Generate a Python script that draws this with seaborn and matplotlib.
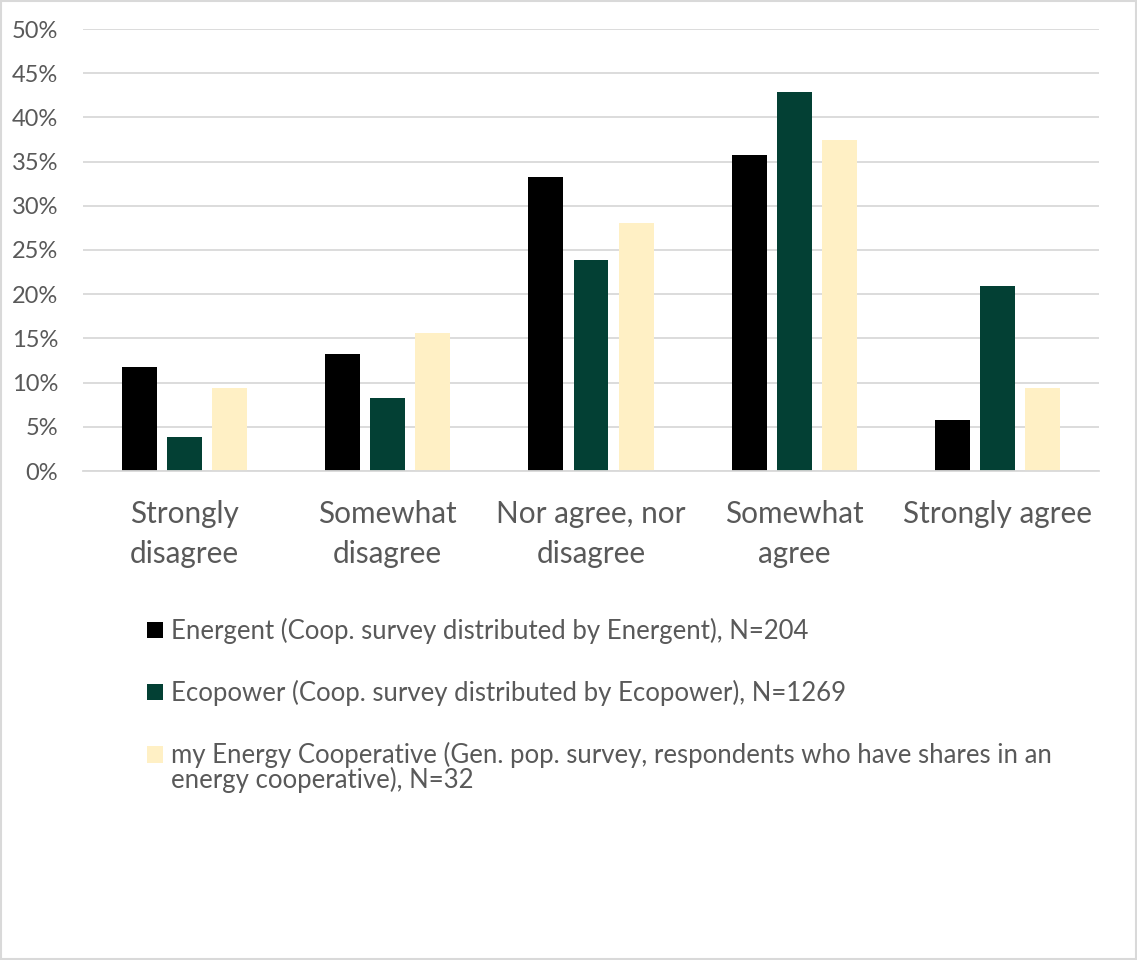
import matplotlib
matplotlib.use("Agg")
import matplotlib.pyplot as plt
import seaborn as sns
import pandas as pd
from matplotlib.patches import Rectangle
from matplotlib.ticker import FuncFormatter

categories = ["Strongly\ndisagree", "Somewhat\ndisagree", "Nor agree, nor\ndisagree",
              "Somewhat\nagree", "Strongly agree"]
series_names = [
    "Energent (Coop. survey distributed by Energent), N=204",
    "Ecopower (Coop. survey distributed by Ecopower), N=1269",
    "my Energy Cooperative (Gen. pop. survey, respondents who have shares in an\nenergy cooperative), N=32",
]
energent = [11.8, 13.2, 33.3, 35.8, 5.8]
ecopower = [3.9, 8.3, 23.9, 42.9, 20.9]
my_energy = [9.4, 15.6, 28.1, 37.5, 9.4]
colors = ["#000000", "#034034", "#fff0c5"]

rows = []
for name, vals in zip(series_names, [energent, ecopower, my_energy]):
    for c, v in zip(categories, vals):
        rows.append({"category": c, "series": name, "value": v})
df = pd.DataFrame(rows)

sns.set_theme(style="white")
plt.rcParams["font.family"] = ["Lato", "DejaVu Sans"]
text_color = "#595959"

fig = plt.figure(figsize=(11.37, 9.6), dpi=100)
ax = fig.add_axes([83 / 1137, 1 - 471 / 960, (1099 - 83) / 1137, (471 - 29) / 960])

sns.barplot(data=df, x="category", y="value", hue="series", palette=colors,
            width=0.665, ax=ax, legend=True, saturation=1, errorbar=None)

# narrow bars to leave gaps within groups
bw = 0.172
for p in ax.patches:
    cx = p.get_x() + p.get_width() / 2
    p.set_x(cx - bw / 2)
    p.set_width(bw)
    p.set_linewidth(0)

ax.set_ylim(0, 50)
ax.set_xlim(-0.5, 4.5)
ax.set_yticks(range(0, 51, 5))
ax.yaxis.set_major_formatter(FuncFormatter(lambda v, _: f"{int(v)}%"))
ax.grid(axis="y", color="#d9d9d9", linewidth=1.3)
ax.set_axisbelow(True)
for s in ["top", "right", "left"]:
    ax.spines[s].set_visible(False)
ax.spines["bottom"].set_color("#d9d9d9")
ax.spines["bottom"].set_linewidth(1.3)
ax.set_xlabel("")
ax.set_ylabel("")
ax.tick_params(axis="y", length=0, labelsize=17, labelcolor=text_color, pad=18)
ax.tick_params(axis="x", length=0, labelsize=21.4, labelcolor=text_color, pad=21)
for lbl in ax.get_xticklabels():
    lbl.set_linespacing(1.5)

handles, labels = ax.get_legend_handles_labels()
ax.get_legend().remove()
first_lines = [l.split("\n")[0] for l in labels]
continuations = [l.split("\n")[1:] for l in labels]
leg = fig.legend(handles, first_lines, loc="upper left", bbox_to_anchor=(147 / 1137, 1 - 618 / 960),
                 frameon=False, fontsize=18.5, labelcolor=text_color, handlelength=0.62,
                 handleheight=0.62, handletextpad=0.31, labelspacing=1.4,
                 borderpad=0, borderaxespad=0)

fig.canvas.draw()
renderer = fig.canvas.get_renderer()
W, H = fig.bbox.width, fig.bbox.height
for txt, cont in zip(leg.get_texts(), continuations):
    if cont:
        bb = txt.get_window_extent(renderer)
        fig.text(bb.x0 / W, (bb.y0 + 1) / H, "\n".join(cont), ha="left", va="top",
                 fontsize=18.5, color=text_color)

fig.patches.append(Rectangle((0.001, 0.001), 0.998, 0.998, transform=fig.transFigure,
                             fill=False, edgecolor="#d9d9d9", linewidth=1.5))

fig.savefig("out.png", dpi=100, facecolor="white")
